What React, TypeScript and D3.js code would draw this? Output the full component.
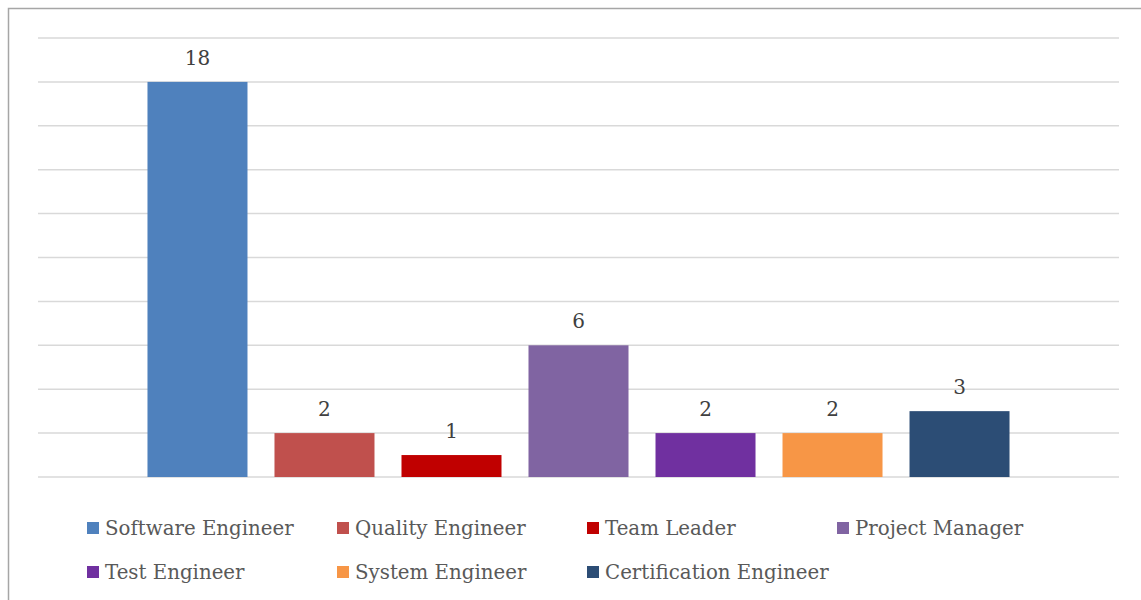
import React from "react";
import * as d3 from "d3";

const categories = [
  "Software Engineer",
  "Quality Engineer",
  "Team Leader",
  "Project Manager",
  "Test Engineer",
  "System Engineer",
  "Certification Engineer",
];
const values = [18, 2, 1, 6, 2, 2, 3];
const colors = ["#4f81bd", "#c0504d", "#c00000", "#8064a2", "#7030a0", "#f79646", "#2c4d75"];
const gridTicks = [0, 2, 4, 6, 8, 10, 12, 14, 16, 18, 20];

const W = 1141;
const H = 600;
const plot = { left: 38, right: 1119, top: 38, bottom: 477 };
const FONT = "'DejaVu Serif', serif";

export default function App() {
  const x = d3
    .scaleBand<string>()
    .domain(categories)
    .range([plot.left, plot.right])
    .paddingInner(0.2126)
    .paddingOuter(0.862);
  const y = d3.scaleLinear().domain([0, 20]).range([plot.bottom, plot.top]);

  const legendCols = [87, 337, 587, 837];
  const legendRows = [528, 572];

  return (
    <svg
      width={W}
      height={H}
      style={{ position: "absolute", left: 0, top: 0, background: "#fff" }}
    >
      <rect x={0} y={0} width={W} height={H} fill="#fff" />
      <rect x={8.5} y={8.5} width={W + 10} height={H + 10} fill="none" stroke="#a6a6a6" strokeWidth={1.5} />
      {gridTicks.map((t) => (
        <line
          key={t}
          x1={plot.left}
          x2={plot.right}
          y1={y(t)}
          y2={y(t)}
          stroke="#d9d9d9"
          strokeWidth={1.5}
        />
      ))}
      {categories.map((c, i) => (
        <g key={c}>
          <rect
            x={x(c)}
            y={y(values[i])}
            width={x.bandwidth()}
            height={y(0) - y(values[i])}
            fill={colors[i]}
          />
          <text
            x={(x(c) as number) + x.bandwidth() / 2}
            y={y(values[i]) - 17}
            textAnchor="middle"
            fontFamily={FONT}
            fontSize={20}
            fill="#404040"
          >
            {values[i]}
          </text>
        </g>
      ))}
      {categories.map((c, i) => {
        const col = i < 4 ? i : i - 4;
        const row = i < 4 ? 0 : 1;
        const lx = legendCols[col];
        const ly = legendRows[row];
        return (
          <g key={"lg" + c}>
            <rect x={lx} y={ly - 6} width={12} height={12} fill={colors[i]} />
            <text
              x={lx + 18}
              y={ly}
              dy="0.35em"
              fontFamily={FONT}
              fontSize={19.8}
              fill="#595959"
            >
              {c}
            </text>
          </g>
        );
      })}
    </svg>
  );
}
